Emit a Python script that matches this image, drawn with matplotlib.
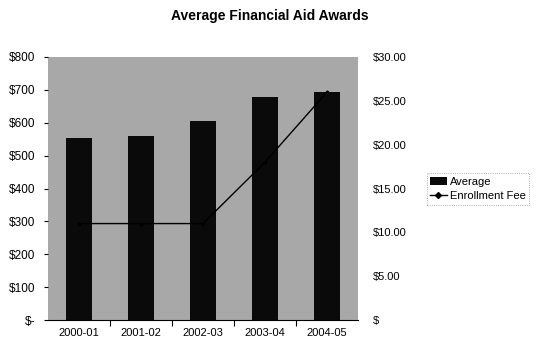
import matplotlib
matplotlib.use("Agg")
import matplotlib.pyplot as plt
from matplotlib.ticker import FixedLocator
from matplotlib.lines import Line2D
from matplotlib.patches import Patch

plt.rcParams['font.family'] = ['Liberation Sans', 'DejaVu Sans']

years = ["2000-01", "2001-02", "2002-03", "2003-04", "2004-05"]
average_award = [555, 560, 605, 678, 695]
enrollment_fee = [11, 11, 11, 18, 26]

left_ticks = [0, 100, 200, 300, 400, 500, 600, 700, 800]
left_labels = ["$-", "$100", "$200", "$300", "$400", "$500", "$600", "$700", "$800"]
right_ticks = [0, 5, 10, 15, 20, 25, 30]
right_labels = ["$", "$5.00", "$10.00", "$15.00", "$20.00", "$25.00", "$30.00"]

fig = plt.figure(figsize=(5.37, 3.43), dpi=100)
ax = fig.add_axes([48 / 537, 1 - 320 / 343, 310 / 537, 263 / 343])
ax.set_facecolor("#a8a8a8")

x = list(range(len(years)))
ax.bar(x, average_award, width=0.42, color="#0a0a0a", zorder=2)
ax.set_xlim(-0.5, len(years) - 0.5)
ax.set_ylim(0, 800)
ax.set_yticks(left_ticks)
ax.set_yticklabels(left_labels, fontsize=8.5)
ax.set_xticks(x)
ax.set_xticklabels(years, fontsize=8)
ax.tick_params(axis="x", length=0, pad=6)
ax.xaxis.set_minor_locator(FixedLocator([0.5, 1.5, 2.5, 3.5]))
ax.tick_params(axis="x", which="minor", length=4, width=0.8, direction="out")
ax.tick_params(axis="y", length=3, width=0.8, pad=6)
for s in ["top", "right", "left"]:
    ax.spines[s].set_visible(False)
ax.spines["bottom"].set_linewidth(0.8)

ax2 = ax.twinx()
ax2.plot(x, enrollment_fee, color="black", linewidth=1.0, marker="D",
         markersize=1.5, zorder=3)
ax2.set_ylim(0, 30)
ax2.set_yticks(right_ticks)
ax2.set_yticklabels(right_labels, fontsize=8)
ax2.tick_params(axis="y", length=0, pad=11)
for s in ["top", "right", "left", "bottom"]:
    ax2.spines[s].set_visible(False)

fig.text(270 / 537, 1 - 16 / 343, "Average Financial Aid Awards",
         ha="center", va="center", fontsize=10, fontweight="bold")

handles = [Patch(facecolor="#0a0a0a", edgecolor="none"),
           Line2D([0], [0], color="black", linewidth=1.0, marker="D", markersize=3)]
leg = fig.legend(handles, ["Average", "Enrollment Fee"],
                 loc="center left", bbox_to_anchor=(421 / 537, 1 - 189 / 343),
                 fontsize=8, frameon=True, handlelength=1.5, handletextpad=0.3,
                 borderpad=0.3, labelspacing=0.4, fancybox=False)
frame = leg.get_frame()
frame.set_edgecolor("#777777")
frame.set_linestyle(":")
frame.set_linewidth(0.6)

fig.savefig("out.png", dpi=100)
